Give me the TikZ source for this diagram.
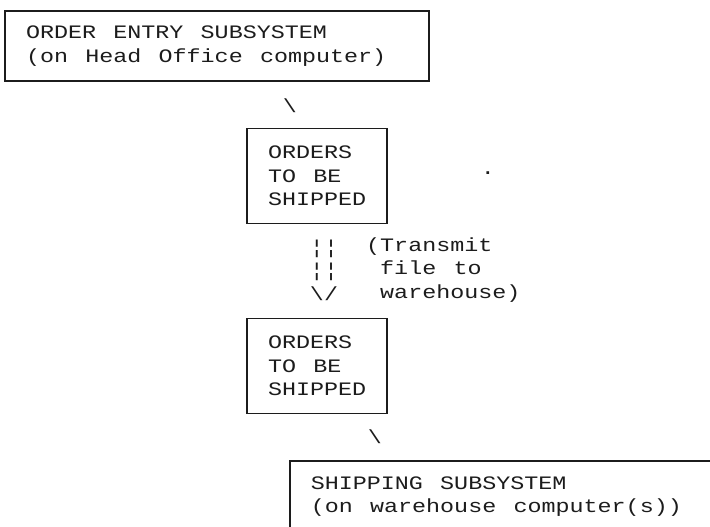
\documentclass[tikz,border=0pt]{standalone}
\usepackage{fontspec}
\newfontfamily\dotfont{Liberation Mono}[FakeStretch=1.23,WordSpace={1.23,0,0}]
\usepackage{tikz}
\usetikzlibrary{positioning}
\definecolor{ink}{HTML}{1C1C1C}
\newcommand\dotsize{\dotfont\fontsize{19pt}{23.5pt}\selectfont}
\tikzset{
  % rutor
  sysbox/.style={draw=ink,line width=1.6pt,inner xsep=21pt,inner ysep=0pt,
                 align=flush left,text=ink,font=\dotsize},
  filebox/.style={sysbox,text width=98pt,minimum height=95pt},
  % tecken
  ascii/.style={inner sep=0pt,text=ink,font=\dotsize},
}
\begin{document}
\begin{tikzpicture}[x=1pt,y=-1pt]
\useasboundingbox (0,0) rectangle (710,527);
\clip (0,0) rectangle (710,527);
  \node[sysbox,text width=382pt,minimum height=70pt] (entry) at (217,46)
    {ORDER ENTRY SUBSYSTEM\\(on Head Office computer)};
  \node[ascii] (dropa) at (290,106) {\textbackslash};
  \node[filebox] (ordhq) at (317,176) {ORDERS\\TO BE\\SHIPPED};
  \node[ascii] (speck) at (488,173) {.};
  \node[ascii,align=center] (pipe) at (324,270) {¦¦\\¦¦\\\textbackslash/};
  \node[ascii,align=left,anchor=west] (xmit) at (366,270)
    {(Transmit\\\hphantom{(}file to\\\hphantom{(}warehouse)};
  \node[filebox] (ordwh) at (317,366) {ORDERS\\TO BE\\SHIPPED};
  \node[ascii] (dropb) at (375,437) {\textbackslash};
  \node[sysbox,text width=440pt,minimum height=72pt,anchor=north west] (ship) at (289,460)
    {SHIPPING SUBSYSTEM\\(on warehouse computer(s))};
\end{tikzpicture}
\end{document}
